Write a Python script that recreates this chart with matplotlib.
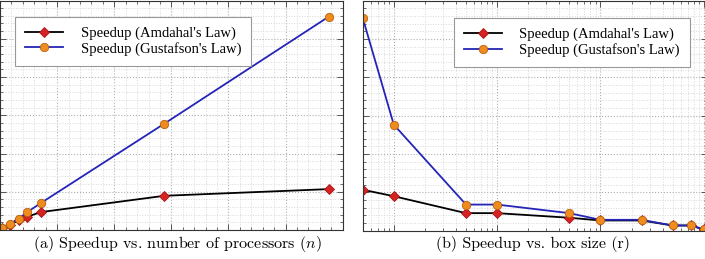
import numpy as np
import matplotlib
matplotlib.use("Agg")
import matplotlib.pyplot as plt
from matplotlib.ticker import FixedLocator, LogLocator, NullFormatter

# ---- data ----
procs = [6, 30, 58, 85, 128, 512, 1024]
amdahl_a = [8, 22, 48, 64, 86, 164, 196]
gustafson_a = [8, 28, 54, 86, 130, 510, 1023]

box_size = [5, 10, 50, 100, 500, 1000, 2500, 5000, 7500, 10000]
amdahl_b = [195, 164, 83, 83, 61, 48, 48, 24, 24, 5]
gustafson_b = [1017, 506, 124, 124, 83, 51, 51, 24, 24, 6]

labels = ["Speedup (Amdahal's Law)", "Speedup (Gustafson's Law)"]
captions = ["(a) Speedup vs. number of processors ($n$)", "(b) Speedup vs. box size (r)"]

plt.rcParams['mathtext.fontset'] = 'cm'

W, H = 705, 259
fig = plt.figure(figsize=(W / 100, H / 100), dpi=100)

def px_axes(x0, x1, ytop, ybot):
    return fig.add_axes([x0 / W, (H - ybot) / H, (x1 - x0) / W, (ybot - ytop) / H])

ax1 = px_axes(0, 342.7, 0.5, 230)
ax2 = px_axes(362.7, 707, 0.5, 230.5)

black_kw = dict(color='black', lw=1.3, marker='D', ms=5, mfc='#d62222', mec='#a51515', mew=0.6)
blue_kw = dict(color='#2424b8', lw=1.3, marker='o', ms=6, mfc='#f08c1e', mec='#b86010', mew=0.6)

ax1.plot(procs, amdahl_a, label=labels[0], **black_kw)
ax1.plot(procs, gustafson_a, label=labels[1], **blue_kw)
ax2.plot(box_size, amdahl_b, label=labels[0], **black_kw)
ax2.plot(box_size, gustafson_b, label=labels[1], **blue_kw)

ymax = 1100
xmax = 1067
ax1.set_xlim(0, xmax)
ax1.set_ylim(0, ymax)
ax1.xaxis.set_major_locator(FixedLocator(np.linspace(0, xmax, 7)))
ax1.xaxis.set_minor_locator(FixedLocator(np.linspace(0, xmax, 31)))

ax2.set_xscale('log')
ax2.set_xlim(5, 10760)
ax2.set_ylim(0, ymax)
ax2.xaxis.set_major_locator(LogLocator(base=10))
ax2.xaxis.set_minor_locator(LogLocator(base=10, subs=np.arange(2, 10)))

for ax in (ax1, ax2):
    ax.yaxis.set_major_locator(FixedLocator(np.linspace(0, ymax, 7)))
    ax.yaxis.set_minor_locator(FixedLocator(np.linspace(0, ymax, 31)))
    ax.xaxis.set_major_formatter(NullFormatter())
    ax.xaxis.set_minor_formatter(NullFormatter())
    ax.yaxis.set_major_formatter(NullFormatter())
    ax.yaxis.set_minor_formatter(NullFormatter())
    ax.tick_params(which='both', direction='in', top=True, right=True, color='#555555')
    ax.tick_params(which='major', length=4, width=0.7)
    ax.tick_params(which='minor', length=2.5, width=0.6)
    ax.grid(which='major', ls=':', color='#b0b0b0', lw=0.8)
    ax.grid(which='minor', ls=':', color='#d8d8d8', lw=0.7)
    ax.set_axisbelow(True)
    for s in ax.spines.values():
        s.set_color('#333333')
        s.set_linewidth(0.8)

leg_kw = dict(loc='upper left', borderaxespad=0, fancybox=False, framealpha=1,
              edgecolor='#999999', handlelength=2.6, handletextpad=1.2, borderpad=0.7,
              labelspacing=0.1, numpoints=1,
              prop=dict(family='Liberation Serif', size=10.5))
l1 = ax1.legend(bbox_to_anchor=(15 / 342.7, 1 - 16 / 229.5), **leg_kw)
l2 = ax2.legend(bbox_to_anchor=((453.7 - 362.7) / 344.3, 1 - 17.3 / 230), **leg_kw)
for l in (l1, l2):
    l.get_frame().set_linewidth(0.8)

fig.text(177 / W, 1 - 244 / H, captions[0], ha='center', va='center', family='cmr10', fontsize=11.5)
fig.text(533 / W, 1 - 244 / H, captions[1], ha='center', va='center', family='cmr10', fontsize=11.5)

fig.savefig('out.png', dpi=100)
